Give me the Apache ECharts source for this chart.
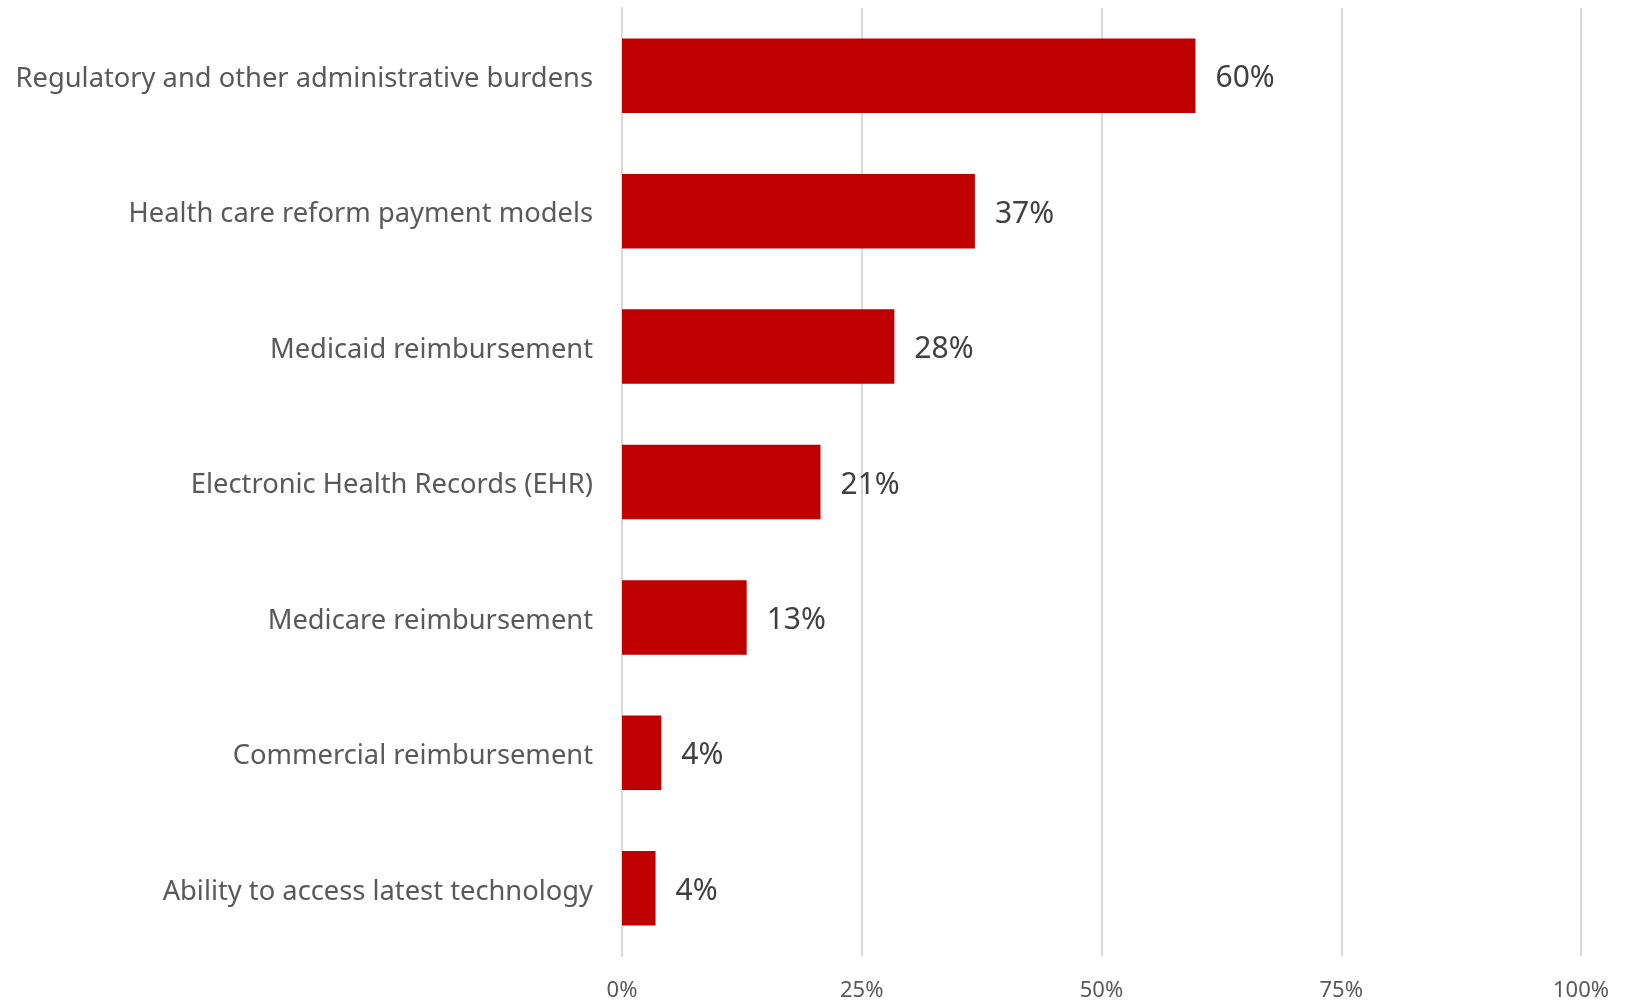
<!DOCTYPE html>
<html>
<head>
<meta charset="utf-8">
<script src="https://cdn.jsdelivr.net/npm/echarts@6/dist/echarts.min.js"></script>
<style>
html,body{margin:0;padding:0;background:#fff;}
#chart{width:1633px;height:1003px;}
</style>
</head>
<body>
<div id="chart"></div>
<script>
const categories = [
  "Regulatory and other administrative burdens",
  "Health care reform payment models",
  "Medicaid reimbursement",
  "Electronic Health Records (EHR)",
  "Medicare reimbursement",
  "Commercial reimbursement",
  "Ability to access latest technology"
];
const values = [59.8, 36.8, 28.4, 20.7, 13.0, 4.1, 3.5];
const labels = ["60%", "37%", "28%", "21%", "13%", "4%", "4%"];
const xTicks = [0, 25, 50, 75, 100];

const chart = echarts.init(document.getElementById('chart'));
chart.setOption({
  animation: false,
  grid: {left: 622, right: 52, top: 8, bottom: 47, containLabel: false},
  xAxis: {
    type: 'value', min: xTicks[0], max: xTicks[xTicks.length - 1], interval: 25,
    axisLine: {show: false}, axisTick: {show: false},
    splitLine: {lineStyle: {color: '#D9D9D9', width: 2}},
    axisLabel: {formatter: v => v + '%', color: '#595959', fontSize: 22, margin: 24, fontFamily: 'Noto Sans'}
  },
  yAxis: {
    type: 'category', data: categories, inverse: true,
    axisLine: {show: true, lineStyle: {color: '#D9D9D9', width: 2}},
    axisTick: {show: false},
    axisLabel: {
      margin: 29,
      formatter: v => '{a|' + v + '}',
      rich: {a: {color: '#595959', fontSize: 27.3, fontFamily: 'Noto Sans', padding: [7, 0, 0, 0]}}
    }
  },
  series: [{
    type: 'bar',
    data: values,
    barCategoryGap: '45%',
    itemStyle: {color: '#C00000'},
    label: {
      show: true, position: 'right', distance: 20, offset: [0, 3],
      color: '#404040', fontSize: 30, fontFamily: 'Noto Sans',
      formatter: p => labels[p.dataIndex]
    }
  }]
});
</script>
</body>
</html>
